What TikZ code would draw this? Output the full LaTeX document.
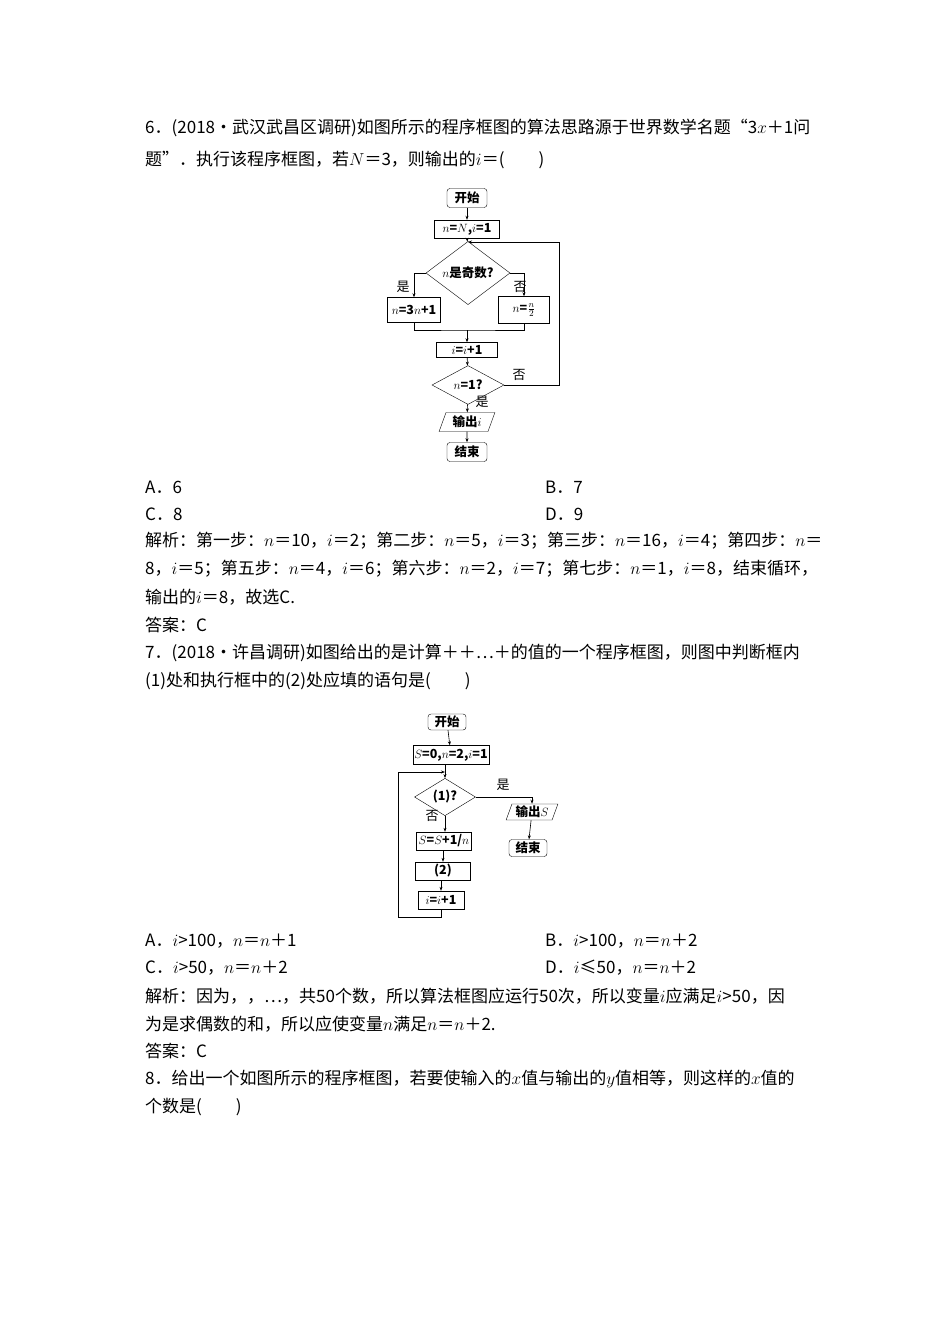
\documentclass[tikz,border=0pt]{standalone}
\usepackage{fontspec}
\setmainfont{Liberation Serif}
\newfontfamily\cjk{Noto Sans CJK SC}
\usetikzlibrary{shapes.geometric,arrows.meta}
\tikzset{
 txt/.style={anchor=west,inner sep=0pt,font=\cjk\fontsize{17}{17}\selectfont},
 fc/.style={font=\cjk\bfseries\fontsize{12.5}{12.5}\selectfont},
 term/.style={fc,draw,rounded corners=3pt,minimum width=40pt,minimum height=19pt,inner sep=1pt},
 proc/.style={fc,draw,inner sep=1pt},
 dec/.style={fc,draw,diamond,inner sep=0pt},
 io/.style={fc,draw,trapezium,trapezium left angle=70,trapezium right angle=110,inner sep=1pt,minimum height=17pt},
 ar/.style={-{Stealth[length=4pt,width=3pt]},line width=0.6pt},
 ln/.style={line width=0.6pt},
 lab/.style={font=\cjk\fontsize{13}{13}\selectfont,inner sep=0pt}
}
\begin{document}
\begin{tikzpicture}[x=1pt,y=-1pt]
\useasboundingbox (0,0) rectangle (950,1344);
% text
\node[txt] (t1) at (145,128) {6．(2018·武汉武昌区调研)如图所示的程序框图的算法思路源于世界数学名题“3$x$＋1问};
\node[txt] (t2) at (145,160) {题”．执行该程序框图，若$N$＝3，则输出的$i$＝(　　)};
\node[txt] (a1) at (145,487) {A．6};
\node[txt] (b1) at (545,487) {B．7};
\node[txt] (c1) at (145,514) {C．8};
\node[txt] (d1) at (545,514) {D．9};
\node[txt] (j1) at (145,541) {解析：第一步：$n$＝10，$i$＝2；第二步：$n$＝5，$i$＝3；第三步：$n$＝16，$i$＝4；第四步：$n$＝};
\node[txt] (j2) at (145,569) {8，$i$＝5；第五步：$n$＝4，$i$＝6；第六步：$n$＝2，$i$＝7；第七步：$n$＝1，$i$＝8，结束循环，};
\node[txt] (j3) at (145,597) {输出的$i$＝8，故选C.};
\node[txt] (k1) at (145,625) {答案：C};
\node[txt] (t3) at (145,653) {7．(2018·许昌调研)如图给出的是计算＋＋⋯＋的值的一个程序框图，则图中判断框内};
\node[txt] (t4) at (145,681) {(1)处和执行框中的(2)处应填的语句是(　　)};
\node[txt] (a2) at (145,941) {A．$i$>100，$n$＝$n$＋1};
\node[txt] (b2) at (545,941) {B．$i$>100，$n$＝$n$＋2};
\node[txt] (c2) at (145,968) {C．$i$>50，$n$＝$n$＋2};
\node[txt] (d2) at (545,968) {D．$i$≤50，$n$＝$n$＋2};
\node[txt] (j4) at (145,996) {解析：因为，，⋯，共50个数，所以算法框图应运行50次，所以变量$i$应满足$i$>50，因};
\node[txt] (j5) at (145,1024) {为是求偶数的和，所以应使变量$n$满足$n$＝$n$＋2.};
\node[txt] (k2) at (145,1051) {答案：C};
\node[txt] (t5) at (145,1079) {8．给出一个如图所示的程序框图，若要使输入的$x$值与输出的$y$值相等，则这样的$x$值的};
\node[txt] (t6) at (145,1107) {个数是(　　)};
% flowchart 1
\node[term] (s1) at (467,198) {开始};
\node[proc,minimum width=65pt,minimum height=18pt] (p1) at (467,229) {$n$=$N$,$i$=1};
\node[dec,minimum width=84pt,minimum height=42pt] (d1f) at (468,273) {$n$是奇数?};
\node[proc,minimum width=53pt,minimum height=25pt] (p2) at (414,310) {$n$=3$n$+1};
\node[proc,minimum width=51pt,minimum height=27pt] (p3) at (524,310) {$n$=$\frac{n}{2}$};
\node[proc,minimum width=61pt,minimum height=15pt] (p4) at (467,350) {$i$=$i$+1};
\node[dec,minimum width=72pt,minimum height=27pt] (d2f) at (468,385) {$n$=1?};
\node[io,minimum width=56pt] (o1) at (467,422) {输出$i$};
\node[term] (e1) at (467,452) {结束};
\coordinate (m1) at (467,330);
\coordinate (lp1) at (467,242);
\draw[ar] (s1) -- (p1);
\draw[ar] (p1) -- (d1f);
\draw[ar] (d1f.west) -| (p2.north);
\draw[ar] (d1f.east) -| (p3.north);
\draw[ln] (p2.south) |- (m1) -| (p3.south);
\draw[ar] (m1) -- (p4);
\draw[ar] (p4) -- (d2f);
\draw[ar] (d2f) -- (o1);
\draw[ar] (o1) -- (e1);
\draw[ar] (d2f.east) -- (559,385) |- ([xshift=1pt]lp1);
\node[lab] (l1) at (403,287) {是};
\node[lab] (l2) at (520,287) {否};
\node[lab] (l3) at (519,375) {否};
\node[lab] (l4) at (482,402) {是};
% flowchart 2
\node[term,minimum width=38pt,minimum height=16pt] (s2) at (447,722) {开始};
\node[proc,minimum width=75pt,minimum height=19pt] (q1) at (451,755) {$S$=0,$n$=2,$i$=1};
\node[dec,minimum width=61pt,minimum height=27pt] (dd) at (445,797) {(1)?};
\node[io,minimum width=52pt,minimum height=16pt] (o2) at (532,812) {输出$S$};
\node[term,minimum width=38pt,minimum height=17pt] (e2) at (528,848) {结束};
\node[proc,minimum width=55pt,minimum height=18pt] (q2) at (444,841) {$S$=$S$+1/$n$};
\node[proc,minimum width=55pt,minimum height=18pt] (q3) at (443,871) {(2)};
\node[proc,minimum width=46pt,minimum height=18pt] (q4) at (441,900) {$i$=$i$+1};
\coordinate (lp2) at (445,772);
\draw[ar] (s2) -- (q1);
\draw[ar] (445,764) -- (dd);
\draw[ar] (dd.east) -| (o2.north);
\draw[ar] (o2) -- (e2);
\draw[ar] (dd.south) -- (dd.south |- q2.north);
\draw[ar] (q2.south -| q3) -- (q3);
\draw[ar] (q3.south -| q4) -- (q4);
\draw[ar] (q4.south) -- (441,917) -| (398,772) -- (lp2);
\node[lab] (l5) at (503,785) {是};
\node[lab] (l6) at (432,816) {否};
\end{tikzpicture}
\end{document}
